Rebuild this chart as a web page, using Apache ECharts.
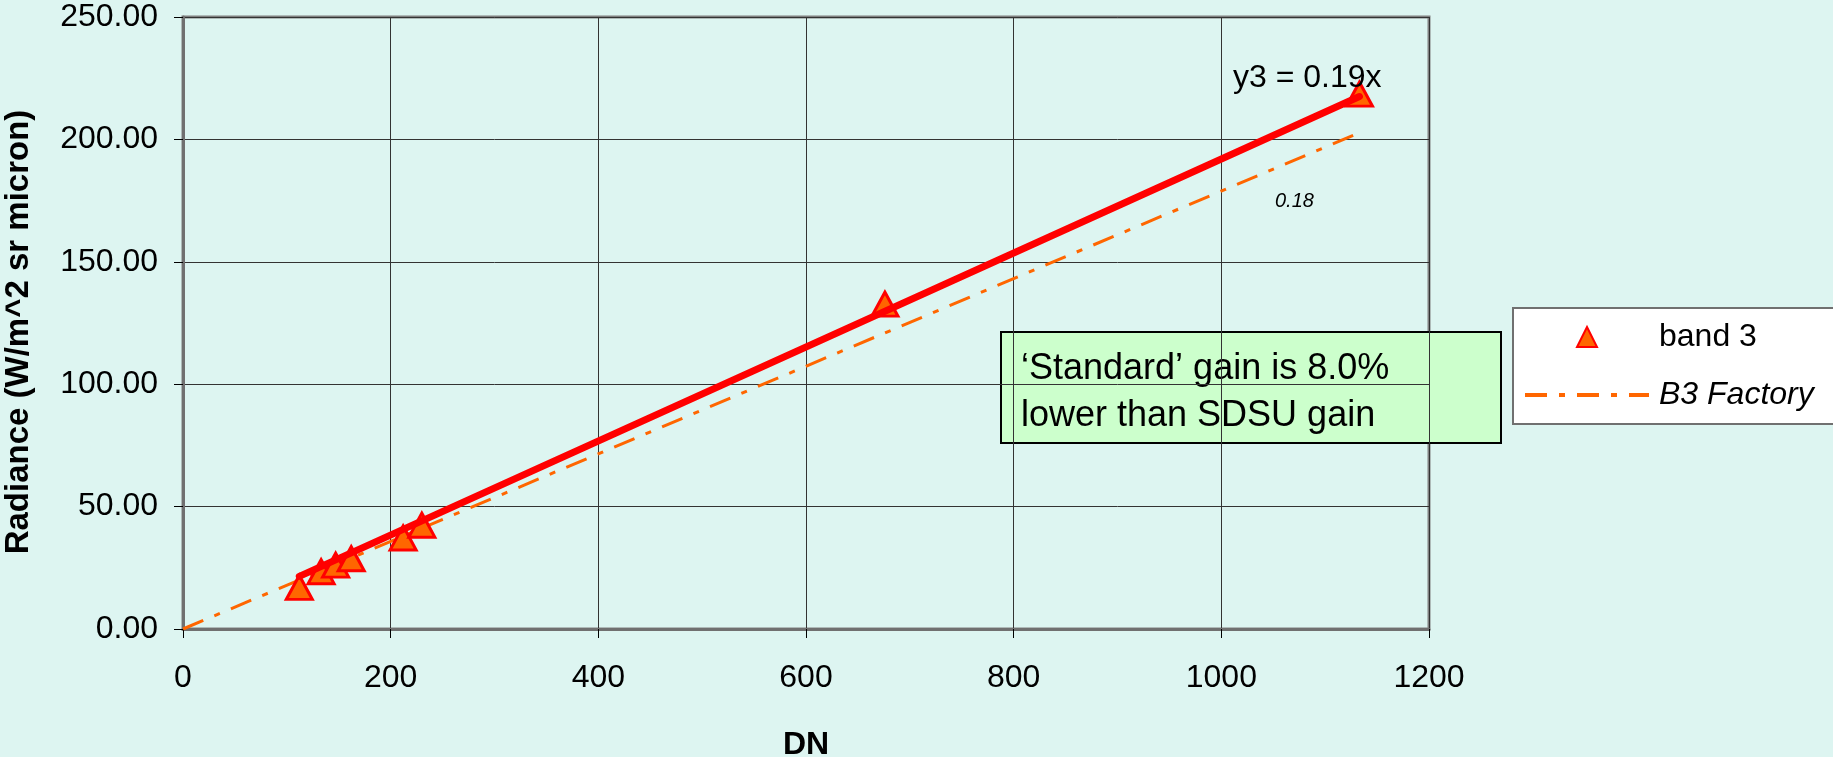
<!DOCTYPE html>
<html>
<head>
<meta charset="utf-8">
<script src="https://cdn.jsdelivr.net/npm/echarts@6/dist/echarts.min.js"></script>
<style>
html,body{margin:0;padding:0;background:#DDF5F1;}
#c{width:1833px;height:757px;}
</style>
</head>
<body>
<div id="c"></div>
<script>
// ---- data ----
const dnValues = [112, 133, 147, 162, 212, 230, 676, 1133];
const radianceValues = [17, 23.4, 26.1, 28.7, 37.2, 42.4, 132.7, 218.5];
const trendX = [112, 1133];
const trendY = [21.5, 217.5];
const factoryX = [0, 1129];
const factoryY = [0, 202];
const xTicks = [0, 200, 400, 600, 800, 1000, 1200];
const yTicks = [0, 50, 100, 150, 200, 250];

const FONT = "'Liberation Sans', Arial, sans-serif";
const zip = (a, b) => a.map((v, i) => [v, b[i]]);

const chart = echarts.init(document.getElementById('c'));
chart.setOption({
  backgroundColor: '#DDF5F1',
  animation: false,
  textStyle: { fontFamily: FONT },
  grid: {
    left: 183, right: 404, top: 17, bottom: 128,
    outerBoundsMode: 'none', containLabel: false,
    show: true, borderColor: '#808080', borderWidth: 3, backgroundColor: 'transparent'
  },
  xAxis: {
    type: 'value', min: xTicks[0], max: xTicks[xTicks.length - 1], interval: 200,
    name: 'DN', nameLocation: 'middle', nameGap: 100,
    nameTextStyle: { fontSize: 32, fontWeight: 'bold', color: '#000', fontFamily: FONT },
    axisLine: { show: true, lineStyle: { color: '#707070', width: 3 } },
    axisTick: { show: true, inside: false, length: 9, lineStyle: { color: '#000', width: 1 } },
    axisLabel: { fontSize: 32, color: '#000', margin: 33, fontFamily: FONT, formatter: v => String(v) },
    splitLine: { show: true, lineStyle: { color: '#333', width: 1 } }
  },
  yAxis: {
    type: 'value', min: yTicks[0], max: yTicks[yTicks.length - 1], interval: 50,
    name: 'Radiance (W/m^2 sr micron)', nameLocation: 'middle', nameGap: 148,
    nameTextStyle: { fontSize: 33, fontWeight: 'bold', color: '#000', fontFamily: FONT, padding: [0, 18, 0, 0] },
    axisLine: { show: true, lineStyle: { color: '#707070', width: 3 } },
    axisTick: { show: true, inside: false, length: 9, lineStyle: { color: '#000', width: 1 } },
    axisLabel: { fontSize: 32, color: '#000', margin: 25, fontFamily: FONT, formatter: v => v.toFixed(2) },
    splitLine: { show: true, lineStyle: { color: '#333', width: 1 } }
  },
  legend: {
    orient: 'vertical', left: 1523, top: 321, padding: 0,
    itemWidth: 124, itemHeight: 20, itemGap: 26, symbolKeepAspect: true,
    data: [
      { name: 'band 3', icon: 'path://M10,0 L20,20 L0,20 Z',
        itemStyle: { color: '#FF6600', borderColor: '#FF0000', borderWidth: 2 } },
      { name: 'B3 Factory', itemStyle: { opacity: 0 }, lineStyle: { width: 4 } }
    ],
    formatter: n => n === 'B3 Factory' ? '{i|' + n + '}' : '{n|' + n + '}',
    textStyle: {
      fontSize: 32, color: '#000', fontFamily: FONT,
      rich: {
        n: { fontSize: 32, color: '#000', fontFamily: FONT, padding: [0, 0, 0, 5] },
        i: { fontSize: 32, color: '#000', fontFamily: FONT, fontStyle: 'italic', padding: [0, 0, 0, 5] }
      }
    },
    z: 10
  },
  graphic: [
    { type: 'rect', left: 1512, top: 307, z: 5,
      shape: { width: 400, height: 116 },
      style: { fill: '#fff', stroke: '#707070', lineWidth: 2 } },
    { type: 'group', left: 1000, top: 331, z: 20, children: [
      { type: 'rect', shape: { width: 500, height: 111 },
        style: { fill: '#CCFFCC', stroke: '#000', lineWidth: 2 } },
      { type: 'text', left: 20, top: 14,
        style: { text: '\u2018Standard\u2019 gain is 8.0%\nlower than SDSU gain', font: '36px ' + FONT,
                 fill: '#000', lineHeight: 47 } }
    ] },
    { type: 'text', left: 1233, top: 62, z: 20,
      style: { text: 'y3 = 0.19x', font: '32px ' + FONT, fill: '#000' } },
    { type: 'text', left: 1275, top: 191, z: 20,
      style: { text: '0.18', font: 'italic 20px ' + FONT, fill: '#000' } }
  ],
  series: [
    {
      name: 'B3 Factory', type: 'line', data: zip(factoryX, factoryY),
      symbol: 'none', z: 2,
      lineStyle: { color: '#FF6600', width: 3, type: [22, 12, 6, 12] },
      itemStyle: { color: '#FF6600' }
    },
    {
      name: 'band 3', type: 'scatter', data: zip(dnValues, radianceValues),
      symbol: 'triangle', symbolSize: [26, 24], z: 3,
      itemStyle: { color: '#FF6600', borderColor: '#FF0000', borderWidth: 3, opacity: 1 }
    },
    {
      name: 'trend', type: 'line', data: zip(trendX, trendY),
      symbol: 'none', z: 4, silent: true,
      lineStyle: { color: '#FF0000', width: 7, cap: 'round' }
    }
  ]
});
</script>
</body>
</html>
